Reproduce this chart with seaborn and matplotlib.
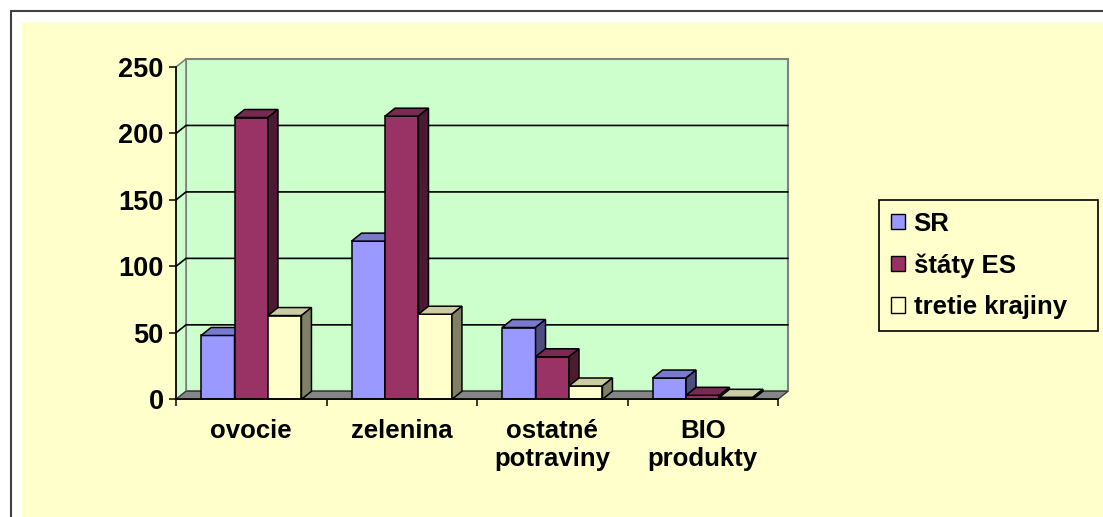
import numpy as np
import pandas as pd
import matplotlib
matplotlib.use('Agg')
import matplotlib.pyplot as plt
from matplotlib.patches import Polygon, Rectangle
from matplotlib.lines import Line2D
from matplotlib.ticker import FixedLocator
import seaborn as sns

categories = ['ovocie', 'zelenina', 'ostatné\npotraviny', 'BIO\nprodukty']
series = ['SR', 'štáty ES', 'tretie krajiny']
sr = [48, 119, 54, 16]
states_es = [212, 213, 32, 3]
third_countries = [63, 64, 10, 1.5]
yticks = [0, 50, 100, 150, 200, 250]

front_colors = ['#9999FF', '#993366', '#FFFFCC']
wall_color = '#CCFFCC'
chart_bg = '#FFFFCC'


def shade(color, f):
    return tuple(v * f for v in matplotlib.colors.to_rgb(color))


df = pd.DataFrame({
    'kategoria': categories * 3,
    'rad': np.repeat(series, len(categories)),
    'hodnota': sr + states_es + third_countries,
})

sns.set_theme(style='white')
plt.rcParams['font.family'] = ['Liberation Sans', 'DejaVu Sans']
plt.rcParams['font.weight'] = 'bold'
plt.rcParams['text.color'] = 'black'

W, H = 1103, 517
fig = plt.figure(figsize=(W / 100, H / 100), dpi=100)
fig.patch.set_facecolor('white')

# outer frame + chart area background
fig.add_artist(Rectangle((22 / W, 0), 1 - 22 / W, 1 - 22 / H, transform=fig.transFigure,
                         facecolor=chart_bg, edgecolor='none', zorder=-2))
fig.add_artist(Line2D([11 / W, 11 / W], [0, 1 - 11 / H], transform=fig.transFigure,
                      color='#404040', lw=1.5, zorder=-1))
fig.add_artist(Line2D([11 / W, 1], [1 - 11 / H, 1 - 11 / H], transform=fig.transFigure,
                      color='#404040', lw=1.5, zorder=-1))

ax_left, ax_bottom, ax_w, ax_h = 176, 399.3, 602, 332.3
ax = fig.add_axes([ax_left / W, (H - ax_bottom) / H, ax_w / W, ax_h / H])
ax.set_facecolor('none')

sns.barplot(data=df, x='kategoria', y='hodnota', hue='rad', palette=front_colors,
            width=0.667, edgecolor='black', linewidth=1.1, saturation=1,
            legend=False, ax=ax)
bars = sorted([p for p in ax.patches if isinstance(p, Rectangle)], key=lambda p: p.get_x())

ax.set_xlim(-0.5, len(categories) - 0.5)
ax.set_ylim(0, 250)

# depth offset of the fake 3d, pixels -> data units
dx = 10 / (ax_w / len(categories))
dy = 8 / (ax_h / 250)
x0, x1 = -0.5, len(categories) - 0.5

# walls and floor
ax.add_patch(Rectangle((x0 + dx, dy), x1 - x0, 250, facecolor=wall_color,
                       edgecolor='#808080', lw=1.5, zorder=0.5, clip_on=False))
ax.add_patch(Polygon([(x0, 0), (x0 + dx, dy), (x0 + dx, 250 + dy), (x0, 250)],
                     closed=True, facecolor=wall_color, edgecolor='#808080', lw=1.2,
                     zorder=0.6, clip_on=False))
for v in yticks[1:-1]:
    ax.plot([x0, x0 + dx, x1 + dx], [v, v + dy, v + dy], color='black', lw=1.2,
            zorder=0.8, clip_on=False)
ax.add_patch(Polygon([(x0, 0), (x1, 0), (x1 + dx, dy), (x0 + dx, dy)], closed=True,
                     facecolor='#858585', edgecolor='#404040', lw=1.0, zorder=0.9,
                     clip_on=False))

# tops and sides of the bars, painted left to right
for k, p in enumerate(bars):
    z = 3 + k * 0.01
    x, w, h = p.get_x(), p.get_width(), p.get_height()
    fc = p.get_facecolor()
    p.set_zorder(z)
    ax.add_patch(Polygon([(x, h), (x + w, h), (x + w + dx, h + dy), (x + dx, h + dy)],
                         closed=True, facecolor=shade(fc, 0.8), edgecolor='black',
                         lw=1.1, zorder=z, clip_on=False))
    ax.add_patch(Polygon([(x + w, 0), (x + w + dx, dy), (x + w + dx, h + dy), (x + w, h)],
                         closed=True, facecolor=shade(fc, 0.5), edgecolor='black',
                         lw=1.1, zorder=z, clip_on=False))

# axes, ticks
for s in ['top', 'right']:
    ax.spines[s].set_visible(False)
for s in ['left', 'bottom']:
    ax.spines[s].set_visible(True)
    ax.spines[s].set_color('black')
    ax.spines[s].set_linewidth(1.2)
    ax.spines[s].set_zorder(10)
ax.set_yticks(yticks)
ax.set_yticklabels([str(v) for v in yticks])
ax.set_xticks(range(len(categories)))
ax.set_xticklabels(categories, linespacing=1.2)
ax.xaxis.set_minor_locator(FixedLocator(np.arange(-0.5, len(categories), 1.0)))
ax.tick_params(axis='y', left=True, length=5, width=1.1, color='black', pad=4,
               labelsize=19.5, labelcolor='black')
ax.tick_params(axis='x', which='major', bottom=False, length=0, pad=14,
               labelsize=18.5, labelcolor='black')
ax.tick_params(axis='x', which='minor', bottom=True, length=5, width=1.1, color='black')
ax.set_xlabel('')
ax.set_ylabel('')

handles = [Rectangle((0, 0), 1, 1, facecolor=c, edgecolor='black', lw=1.0) for c in front_colors]
leg = fig.legend(handles, series, loc='upper left',
                 bbox_to_anchor=(879 / W, 1 - 333 / H, (1098 - 879) / W, (333 - 200) / H),
                 bbox_transform=fig.transFigure, mode='expand', borderaxespad=0,
                 frameon=True, fancybox=False, framealpha=1, facecolor=chart_bg,
                 edgecolor='black', prop={'size': 18.5, 'weight': 'bold'},
                 labelcolor='black',
                 handlelength=0.55, handleheight=0.55, handletextpad=0.35,
                 labelspacing=0.68, borderpad=0.45)
leg.get_frame().set_linewidth(1.2)

fig.savefig('out.png', dpi=100)
